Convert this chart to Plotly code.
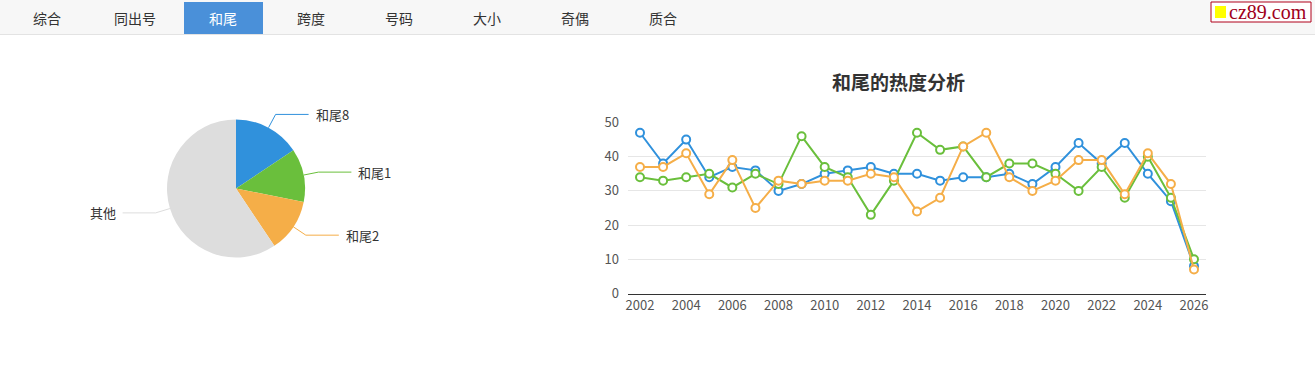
import math
import plotly.graph_objects as go

W, H = 1315, 379
FONT = "Noto Sans CJK SC, Microsoft YaHei, sans-serif"

tabs = ["综合", "同出号", "和尾", "跨度", "号码", "大小", "奇偶", "质合"]
active_tab = "和尾"

years = list(range(2002, 2027))
s_8 = [47, 38, 45, 34, 37, 36, 30, 32, 35, 36, 37, 35, 35, 33, 34, 34, 35, 32, 37, 44, 38, 44, 35, 27, 8]
s_1 = [34, 33, 34, 35, 31, 35, 32, 46, 37, 34, 23, 33, 47, 42, 43, 34, 38, 38, 35, 30, 37, 28, 40, 28, 10]
s_2 = [37, 37, 41, 29, 39, 25, 33, 32, 33, 33, 35, 34, 24, 28, 43, 47, 34, 30, 33, 39, 39, 29, 41, 32, 7]

pie_labels = ["和尾8", "和尾1", "和尾2", "其他"]
pie_values = [5, 4, 4, 19]

c_blue = "#3091dc"
c_green = "#6abf3c"
c_orange = "#f5ae48"
c_grey = "#dddddd"
pie_colors = [c_blue, c_green, c_orange, c_grey]

def px(x):
    return x / W

def py(y):
    return 1 - y / H

fig = go.Figure()

# pie geometry (pixels)
pcx, pcy, pr = 236, 188.5, 69
fig.add_trace(go.Pie(
    labels=pie_labels, values=pie_values, sort=False, direction="clockwise",
    rotation=0, marker=dict(colors=pie_colors, line=dict(width=0)),
    textinfo="none", showlegend=False, hole=0,
    domain=dict(x=[px(pcx - pr), px(pcx + pr)], y=[py(pcy + pr), py(pcy - pr)]),
))

series = [("和尾8", s_8, c_blue), ("和尾1", s_1, c_green), ("和尾2", s_2, c_orange)]
for name, vals, col in series:
    fig.add_trace(go.Scatter(
        x=years, y=vals, name=name, mode="lines+markers",
        line=dict(color=col, width=2),
        marker=dict(symbol="circle", size=8, color="white", line=dict(color=col, width=2)),
        showlegend=False, xaxis="x", yaxis="y",
    ))

shapes = []
annotations = []

# tab bar
shapes.append(dict(type="rect", xref="paper", yref="paper", x0=0, x1=1, y0=py(34), y1=1,
                   fillcolor="#f7f7f7", line=dict(width=0), layer="below"))
shapes.append(dict(type="line", xref="paper", yref="paper", x0=0, x1=1, y0=py(34.5), y1=py(34.5),
                   line=dict(color="#e3e3e3", width=1)))
tab_start, tab_step, tab_w = 47, 88, 79
for i, t in enumerate(tabs):
    cx = tab_start + i * tab_step
    if t == active_tab:
        shapes.append(dict(type="rect", xref="paper", yref="paper",
                           x0=px(cx - tab_w / 2 + 0.5), x1=px(cx + tab_w / 2 + 0.5), y0=py(34), y1=py(2),
                           fillcolor="#4a90d9", line=dict(width=0)))
    annotations.append(dict(text=t, xref="paper", yref="paper", x=px(cx), y=py(18),
                            showarrow=False, xanchor="center", yanchor="middle",
                            font=dict(family=FONT, size=14, color="white" if t == active_tab else "#333")))

# logo
shapes.append(dict(type="rect", xref="paper", yref="paper", x0=px(1211), x1=px(1311), y0=py(22), y1=py(2),
                   fillcolor="white", line=dict(color="#b0001a", width=1)))
shapes.append(dict(type="rect", xref="paper", yref="paper", x0=px(1215), x1=px(1226), y0=py(18), y1=py(6),
                   fillcolor="#ffff00", line=dict(width=0)))
annotations.append(dict(text="cz89.com", xref="paper", yref="paper", x=px(1227), y=py(12),
                        showarrow=False, xanchor="left", yanchor="middle",
                        font=dict(family="Liberation Serif, DejaVu Serif, serif", size=20, color="#a0001a")))

# pie leader lines and labels computed from data
total = sum(pie_values)
acc = 0
for lab, v, col in zip(pie_labels, pie_values, pie_colors):
    mid = (acc + v / 2) / total * 2 * math.pi
    acc += v
    sx, sy = math.sin(mid), -math.cos(mid)
    x1, y1 = pcx + pr * sx, pcy + pr * sy
    x2, y2 = pcx + (pr + 15) * sx, pcy + (pr + 15) * sy
    d = 1 if sx >= 0 else -1
    x3 = x2 + d * 33
    shapes.append(dict(type="path", xref="paper", yref="paper",
                       path=f"M {px(x1)},{py(y1)} L {px(x2)},{py(y2)} L {px(x3)},{py(y2)}",
                       line=dict(color=col, width=1)))
    annotations.append(dict(text=lab, xref="paper", yref="paper", x=px(x3 + d * 5), y=py(y2),
                            showarrow=False, xanchor="left" if d > 0 else "right", yanchor="middle",
                            font=dict(family=FONT, size=13, color="#333")))

# line chart title
annotations.append(dict(text="<b>和尾的热度分析</b>", xref="paper", yref="paper", x=px(898), y=py(81),
                        showarrow=False, xanchor="center", yanchor="middle",
                        font=dict(family=FONT, size=19, color="#333")))

fig.update_layout(
    width=W, height=H, margin=dict(l=0, r=0, t=0, b=0, pad=0, autoexpand=False),
    paper_bgcolor="white", plot_bgcolor="white",
    font=dict(family=FONT, color="#555"),
    xaxis=dict(domain=[px(628), px(1206)], range=[2001.48, 2026.52], tickmode="array",
               tickvals=list(range(2002, 2027, 2)), ticktext=[str(y) for y in range(2002, 2027, 2)],
               showgrid=False, zeroline=False, showline=True, linecolor="#333", linewidth=1,
               ticks="", tickfont=dict(size=13, color="#555"), fixedrange=True, automargin=False),
    yaxis=dict(domain=[py(293.5), py(122.5)], range=[0, 50], tickvals=[0, 10, 20, 30, 40, 50],
               showgrid=True, gridcolor="#e6e6e6", gridwidth=1, zeroline=False, showline=False,
               ticks="", tickfont=dict(size=13, color="#555"), ticklabelstandoff=8, fixedrange=True,
               automargin=False),
    shapes=shapes, annotations=annotations,
)

post = ("var d=document.getElementById('{plot_id}');"
        "d.style.position='fixed';d.style.left='0px';d.style.top='0px';d.style.zIndex='10';"
        "document.documentElement.style.margin='0';document.documentElement.style.overflow='hidden';"
        "document.body.style.margin='0';document.body.style.padding='0';document.body.style.overflow='hidden';")
fig.write_html("out.html", post_script=post, config={"displayModeBar": False, "responsive": False})
